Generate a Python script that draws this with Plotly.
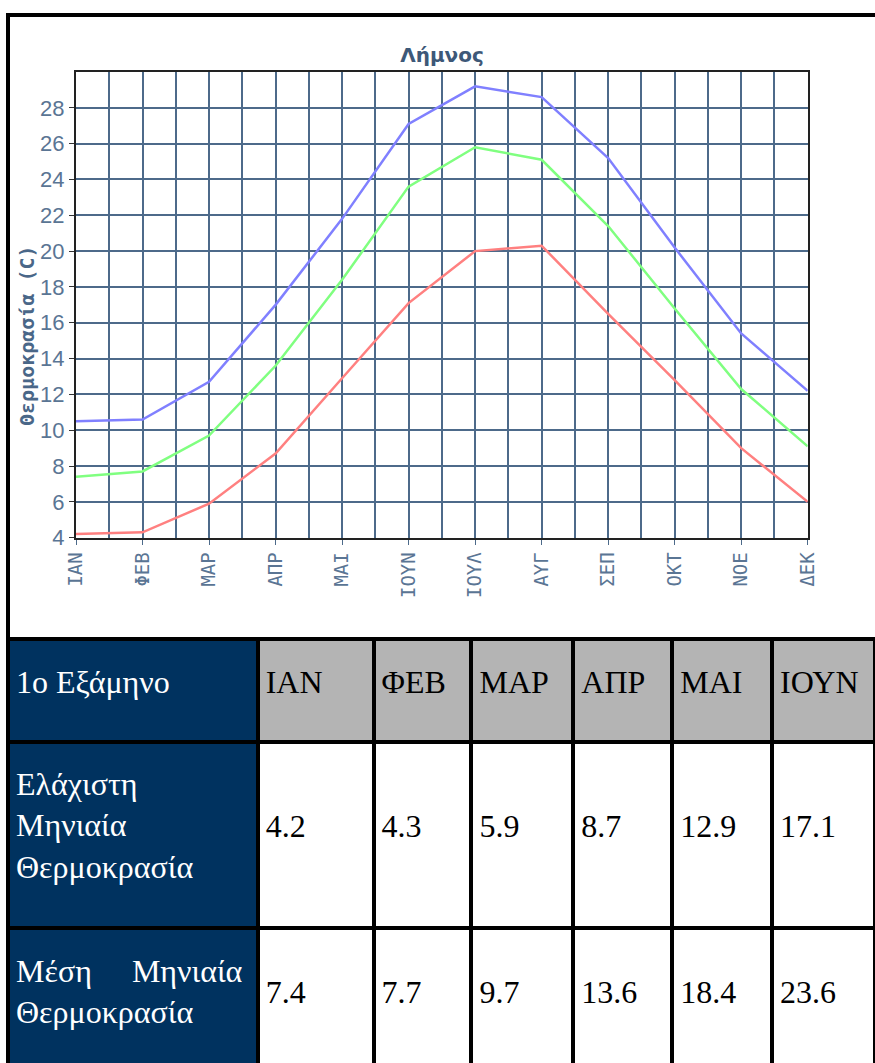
import plotly.graph_objects as go

# ---- data ----
months = ["ΙΑΝ", "ΦΕΒ", "ΜΑΡ", "ΑΠΡ", "ΜΑΙ", "ΙΟΥΝ", "ΙΟΥΛ", "ΑΥΓ", "ΣΕΠ", "ΟΚΤ", "ΝΟΕ", "ΔΕΚ"]
t_max = [10.5, 10.6, 12.7, 17.0, 21.8, 27.1, 29.2, 28.6, 25.2, 20.2, 15.4, 12.2]
t_mean = [7.4, 7.7, 9.7, 13.6, 18.4, 23.6, 25.8, 25.1, 21.4, 16.8, 12.3, 9.1]
t_min = [4.2, 4.3, 5.9, 8.7, 12.9, 17.1, 20.0, 20.3, 16.5, 12.8, 9.0, 6.0]
y_ticks = [4, 6, 8, 10, 12, 14, 16, 18, 20, 22, 24, 26, 28]

chart_title = "Λήμνος"
y_title = "Θερμοκρασία (C)"
table_corner = "1o Εξάμηνο"
row_labels = ["Ελάχιστη<br>Μηνιαία<br>Θερμοκρασία",
              "Μέση" + "\u00a0" * 5 + "Μηνιαία<br>Θερμοκρασία"]
half_year = 6

W, H = 875, 1063
x_idx = list(range(len(months)))


def lead(px):
    # invisible leading line used to push cell text down inside the table cell
    return "<span style='font-size:%dpx'>\u00a0</span><br>" % px


fig = go.Figure()
for vals, color in [(t_max, "#8080ff"), (t_mean, "#80ff80"), (t_min, "#ff8080")]:
    fig.add_trace(go.Scatter(x=x_idx, y=vals, mode="lines",
                             line=dict(color=color, width=2.5),
                             showlegend=False, hoverinfo="skip"))

# ---- table ----
header_vals = [lead(5) + h for h in [table_corner] + months[:half_year]]
cell_cols = [[lead(3) + row_labels[0], lead(5) + row_labels[1]]]
for i in range(half_year):
    cell_cols.append([lead(4) + "<br>" + f"{t_min[i]:.1f}", lead(28) + f"{t_mean[i]:.1f}"])
navy = "#00325f"
header_fill = [navy] + ["#b4b4b4"] * half_year
header_font_col = ["white"] + ["black"] * half_year
cell_fill = [[navy, navy]] + [["white", "white"]] * half_year
cell_font_col = [["white", "white"]] + [["black", "black"]] * half_year
table_font = "Liberation Serif, DejaVu Serif, serif"

fig.add_trace(go.Table(
    domain=dict(x=[8 / W, 1.0], y=[0, (H - 639) / H]),
    columnwidth=[250, 116, 98, 102, 99, 100, 103],
    header=dict(values=header_vals, fill_color=header_fill, align="left", height=103,
                font=dict(family=table_font, size=32, color=header_font_col),
                line=dict(color="black", width=4)),
    cells=dict(values=cell_cols, fill_color=cell_fill, align="left", height=186,
               font=dict(family=table_font, size=32, color=cell_font_col),
               line=dict(color="black", width=4)),
))

grid_col = "#4d6a8a"
tick_col = "#5a7594"
fig.update_layout(
    width=W, height=H, margin=dict(l=0, r=0, t=0, b=0, autoexpand=False),
    paper_bgcolor="white", plot_bgcolor="white",
    xaxis=dict(domain=[76 / W, 807.7 / W], range=[0, 11], tickvals=x_idx, ticktext=months,
               tickangle=-90, showgrid=True, gridcolor=grid_col, gridwidth=2,
               minor=dict(dtick=0.5, tick0=0, showgrid=True, gridcolor=grid_col, gridwidth=2),
               showline=True, linecolor="#222", linewidth=2, mirror=True, automargin=False,
               ticks="outside", ticklen=5, tickcolor=grid_col, zeroline=False,
               tickfont=dict(family="DejaVu Sans Mono", size=19, color=tick_col)),
    yaxis=dict(domain=[(H - 537.7) / H, (H - 72) / H], range=[4, 30], tickvals=y_ticks,
               showgrid=True, gridcolor=grid_col, gridwidth=2, automargin=False,
               showline=True, linecolor="#222", linewidth=2, mirror=True,
               ticks="outside", ticklen=5, tickcolor="#333", zeroline=False,
               tickfont=dict(family="Liberation Sans", size=22, color=tick_col)),
    title=dict(text="<b>" + chart_title + "</b>", x=442 / W, xanchor="center",
               y=1 - 55 / H, yanchor="middle",
               font=dict(family="DejaVu Sans", size=20, color="#3d5878")),
    annotations=[dict(text="<b>" + y_title + "</b>", xref="paper", yref="paper",
                      x=27 / W, y=1 - 336 / H, textangle=-90, showarrow=False,
                      xanchor="center", yanchor="middle",
                      font=dict(family="DejaVu Sans Mono", size=20, color="#4a6788"))],
    shapes=[dict(type="rect", xref="paper", yref="paper", x0=8 / W, x1=1.02,
                 y0=(H - 639) / H, y1=1 - 15 / H, line=dict(color="black", width=4),
                 layer="below")],
)

fig.write_html("out.html", config={"staticPlot": True},
               post_script="document.body.style.margin='0';document.body.style.overflow='hidden';")
